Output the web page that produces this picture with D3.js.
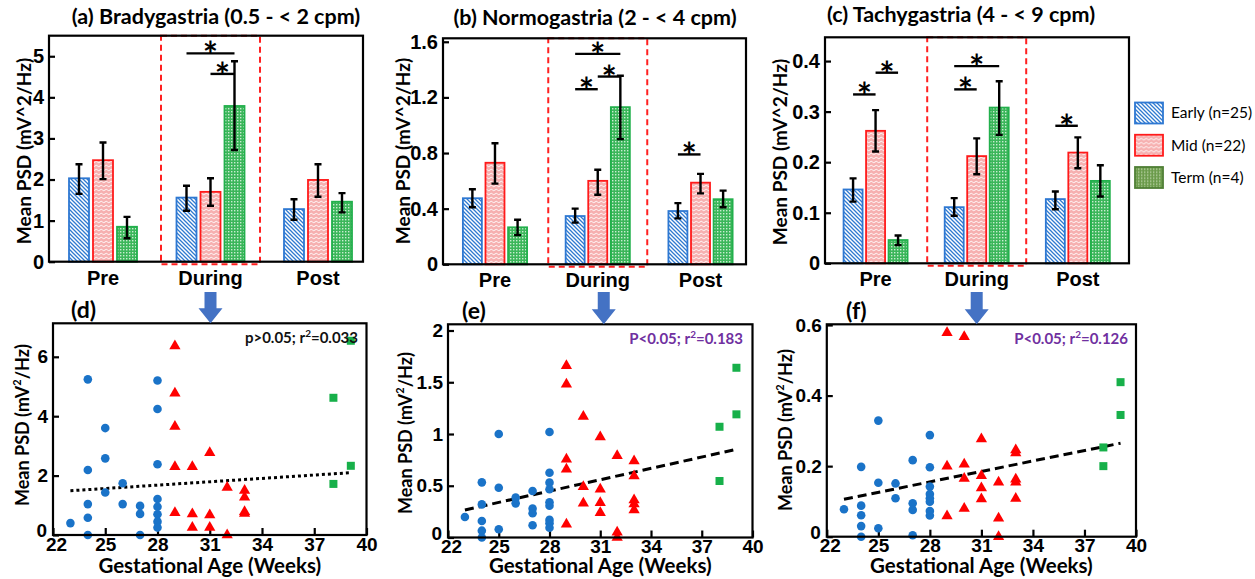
<!DOCTYPE html>
<html>
<head>
<meta charset="utf-8">
<script src="https://cdn.jsdelivr.net/npm/d3@7"></script>
<style>
  body { margin: 0; background: #fff; }
  svg { display: block; font-family: Lato, "Open Sans", sans-serif; }
</style>
</head>
<body>
<svg id="chart" width="1255" height="579"></svg>
<script>
const groups = ["Pre", "During", "Post"];
const cohorts = ["Early (n=25)", "Mid (n=22)", "Term (n=4)"];

// bar panels: rows = groups (Pre, During, Post), cols = cohorts (Early, Mid, Term)
const bradyMean = [[2.03, 2.47, 0.85], [1.56, 1.70, 3.79], [1.28, 1.99, 1.46]];
const bradyLow  = [[1.65, 2.01, 0.57], [1.24, 1.36, 2.72], [1.02, 1.58, 1.20]];
const bradyHigh = [[2.37, 2.90, 1.09], [1.85, 2.03, 4.88], [1.52, 2.37, 1.67]];

const normoMean = [[0.475, 0.73, 0.266], [0.347, 0.60, 1.13], [0.383, 0.587, 0.468]];
const normoLow  = [[0.41, 0.58, 0.21], [0.30, 0.50, 0.90], [0.33, 0.51, 0.41]];
const normoHigh = [[0.54, 0.87, 0.32], [0.40, 0.68, 1.356], [0.44, 0.65, 0.53]];

const tachyMean = [[0.146, 0.262, 0.046], [0.111, 0.212, 0.308], [0.127, 0.219, 0.163]];
const tachyLow  = [[0.122, 0.221, 0.036], [0.094, 0.176, 0.254], [0.107, 0.188, 0.132]];
const tachyHigh = [[0.168, 0.303, 0.055], [0.129, 0.247, 0.360], [0.142, 0.249, 0.194]];

// significance bars: [group, from cohort, to cohort, height]
const bradySig = [[1, 0, 2, 5.07], [1, 1, 2, 4.57]];
const normoSig = [[1, 0, 2, 1.513], [1, 0, 1, 1.259], [1, 1, 2, 1.35], [2, 0, 1, 0.79]];
const tachySig = [[0, 0, 1, 0.334], [0, 1, 2, 0.377], [1, 0, 2, 0.39], [1, 0, 1, 0.344], [2, 0, 1, 0.272]];

// scatter panels: [gestational week, mean PSD]
const bradyEarly = [[23, 0.4], [24, 5.24], [24, 2.19], [24, 1.04], [24, 0.58], [24, 0], [25, 3.6], [25, 2.58], [25, 1.43],
  [26, 1.74], [26, 1.04], [27, 0.98], [27, 0.71], [27, 0], [28, 5.2], [28, 4.24], [28, 2.38], [28, 1.21], [28, 0.95],
  [28, 0.7], [28, 0.45], [28, 0.25]];
const bradyMid = [[29, 6.36], [29, 4.77], [29, 3.65], [29, 2.3], [29, 0.75], [30, 2.3], [30, 0.71], [30, 0.25],
  [31, 2.77], [31, 0.67], [31, 0.25], [32, 1.6], [32, 0], [33, 1.5], [33, 1.27], [33, 0.78], [33, 0.72]];
const bradyTerm = [[39.1, 6.54], [38.1, 4.62], [39.1, 2.33], [38.1, 1.72]];
const bradyFit = [[23, 1.49], [39.15, 2.1]];

const normoEarly = [[23, 0.198], [24, 0.533], [24, 0.32], [24, 0.16], [24, 0.066], [24, 0], [25, 1.0], [25, 0.48], [25, 0.08],
  [26, 0.385], [26, 0.33], [27, 0.45], [27, 0.28], [27, 0.234], [27, 0.118], [28, 1.02], [28, 0.626], [28, 0.53],
  [28, 0.466], [28, 0.34], [28, 0.307], [28, 0.17], [28, 0.137], [28, 0.095]];
const normoMid = [[29, 1.66], [29, 1.48], [29, 0.755], [29, 0.66], [29, 0.128], [30, 1.17], [30, 0.49], [30, 0.33],
  [31, 0.97], [31, 0.466], [31, 0.336], [31, 0.24], [32, 0.79], [32, 0.05], [32, 0], [33, 0.74], [33, 0.594],
  [33, 0.362], [33, 0.324], [33, 0.266]];
const normoTerm = [[39.05, 1.64], [39.05, 1.19], [38.05, 1.07], [38.05, 0.546]];
const normoFit = [[23, 0.266], [39.05, 0.852]];

const tachyEarly = [[23, 0.078], [24, 0.198], [24, 0.088], [24, 0.061], [24, 0.03], [24, 0], [25, 0.329], [25, 0.153],
  [25, 0.024], [26, 0.151], [26, 0.109], [27, 0.217], [27, 0.095], [27, 0.076], [27, 0.004], [28, 0.288], [28, 0.197],
  [28, 0.142], [28, 0.121], [28, 0.109], [28, 0.099], [28, 0.073], [28, 0.06]];
const tachyMid = [[29, 0.578], [29, 0.2], [29, 0.059], [30, 0.567], [30, 0.205], [30, 0.165], [30, 0.08], [31, 0.277],
  [31, 0.173], [31, 0.138], [31, 0.107], [32, 0.154], [32, 0.052], [32, 0], [33, 0.246], [33, 0.237], [33, 0.163],
  [33, 0.154], [33, 0.108]];
const tachyTerm = [[39.1, 0.438], [39.1, 0.345], [38.1, 0.253], [38.1, 0.2]];
const tachyFit = [[23, 0.106], [39.1, 0.265]];

const weekTicks = [22, 25, 28, 31, 34, 37, 40];

const strokeCols = ["#2e78d2", "#ff1a1a", "#22b04c"];
const fills = ["url(#pEarly)", "url(#pMid)", "url(#pTerm)"];

const svg = d3.select("#chart");
const defs = svg.append("defs");

function addPattern(id, w, h, bg) {
  const p = defs.append("pattern").attr("id", id)
    .attr("patternUnits", "userSpaceOnUse").attr("width", w).attr("height", h);
  p.append("rect").attr("width", w).attr("height", h).attr("fill", bg);
  return p;
}
addPattern("pEarly", 4, 4, "#fff").append("path")
  .attr("d", "M-1,-1L5,5M-1,3L1,5M3,-1L5,1")
  .attr("stroke", "#2f7ad0").attr("stroke-width", 1.3);
addPattern("pMid", 5, 4, "#f6b0b0").append("path")
  .attr("d", "M0,2Q1.25,0.6 2.5,2T5,2").attr("fill", "none")
  .attr("stroke", "#fff").attr("stroke-width", 0.9);
addPattern("pTerm", 3, 3, "#3bb65a").append("rect")
  .attr("width", 1.4).attr("height", 1.4).attr("fill", "#c8ecd0");
addPattern("pTermLeg", 3, 3, "#6b9b4b").append("rect")
  .attr("width", 1.4).attr("height", 1.4).attr("fill", "#b9d3a6");

function styleAxis(g, size) {
  g.select(".domain").remove();
  g.selectAll(".tick line").attr("stroke", "#000").attr("stroke-width", 2.2);
  g.selectAll(".tick text").attr("fill", "#000").attr("font-size", size).attr("font-weight", 700);
}

function barPanel(o) {
  const x = d3.scaleBand().domain(groups).range(o.xRange);
  const pad = 1 - o.barW / o.stride;
  const sub = d3.scaleBand().domain([0, 1, 2])
    .range([-1.5 * o.stride, 1.5 * o.stride]).paddingInner(pad).paddingOuter(pad / 2);
  const y = d3.scaleLinear().domain([0, o.yMax]).range([o.yBottom, o.yTop]);
  const center = (g) => x(groups[g]) + x.bandwidth() / 2;
  const cx = (g, c) => center(g) + sub(c) + sub.bandwidth() / 2;

  const bars = [];
  o.mean.forEach((row, g) => row.forEach((v, c) => {
    bars.push({ g, c, v, lo: o.low[g][c], hi: o.high[g][c] });
  }));

  svg.append("g").selectAll("rect").data(bars).join("rect")
    .attr("x", d => cx(d.g, d.c) - sub.bandwidth() / 2)
    .attr("width", sub.bandwidth())
    .attr("y", d => y(d.v))
    .attr("height", d => y(0) - y(d.v))
    .attr("fill", d => fills[d.c])
    .attr("stroke", d => strokeCols[d.c])
    .attr("stroke-width", 1.8);

  const err = svg.append("g").attr("stroke", "#000").attr("stroke-width", 2.4);
  err.selectAll("path").data(bars).join("path")
    .attr("fill", "none")
    .attr("d", d => {
      const c = cx(d.g, d.c);
      return `M${c - 3.5},${y(d.hi)}H${c + 3.5}M${c},${y(d.hi)}V${y(d.lo)}M${c - 3.5},${y(d.lo)}H${c + 3.5}`;
    });

  // dashed highlight around the "During" group
  const dx = center(1);
  svg.append("rect")
    .attr("x", dx - o.boxHalf).attr("width", 2 * o.boxHalf)
    .attr("y", o.yTop).attr("height", o.yBottom - o.yTop + 2.5)
    .attr("fill", "none").attr("stroke", "#ff2020").attr("stroke-width", 2)
    .attr("stroke-dasharray", "6,4");

  const sig = svg.append("g");
  sig.selectAll("line").data(o.sig).join("line")
    .attr("x1", d => cx(d[0], d[1])).attr("x2", d => cx(d[0], d[2]))
    .attr("y1", d => y(d[3])).attr("y2", d => y(d[3]))
    .attr("stroke", "#000").attr("stroke-width", 2.4);
  sig.selectAll("text").data(o.sig).join("text")
    .attr("x", d => (cx(d[0], d[1]) + cx(d[0], d[2])) / 2)
    .attr("y", d => y(d[3]) + 15)
    .attr("text-anchor", "middle").attr("font-size", 36).attr("font-weight", 700)
    .text("*");

  svg.append("g").attr("transform", `translate(${o.frame[0]},0)`)
    .call(d3.axisLeft(y).tickValues(o.ticks).tickSize(-6).tickPadding(5).tickFormat(d3.format("")))
    .call(g => styleAxis(g, 20));

  svg.append("g").attr("transform", `translate(0,${o.yBottom})`)
    .call(d3.axisBottom(x).tickSize(0).tickPadding(9))
    .call(g => styleAxis(g, 20));

  svg.append("rect")
    .attr("x", o.frame[0]).attr("y", o.yTop)
    .attr("width", o.frame[1] - o.frame[0]).attr("height", o.yBottom - o.yTop)
    .attr("fill", "none").attr("stroke", "#000").attr("stroke-width", 2.2);

  svg.append("text")
    .attr("x", o.title[1]).attr("y", o.title[2])
    .attr("text-anchor", "middle").attr("font-size", 21.5).attr("font-weight", 700)
    .text(o.title[0]);

  svg.append("text")
    .attr("transform", `translate(${o.ylab[0]},${o.ylab[1]}) rotate(-90)`)
    .attr("text-anchor", "middle").attr("dominant-baseline", "central")
    .attr("font-size", 19).attr("font-weight", 700)
    .text("Mean PSD (mV^2/Hz)");

  return center(1);
}

function scatterPanel(o) {
  const x = d3.scaleLinear().domain([22, 40]).range(o.xRange);
  const y = d3.scaleLinear().domain([0, o.yMax]).range([o.yBottom, o.yTop]);

  svg.append("g").attr("transform", `translate(${o.xRange[0]},0)`)
    .call(d3.axisLeft(y).tickValues(o.ticks).tickSize(-6).tickPadding(5).tickFormat(d3.format("")))
    .call(g => styleAxis(g, 19))
    .call(g => g.selectAll(".tick text").filter(d => d === 0).attr("dy", "0.1em").attr("x", -6));

  svg.append("g").attr("transform", `translate(0,${o.yBottom})`)
    .call(d3.axisBottom(x).tickValues(weekTicks).tickSize(-7).tickPadding(2))
    .call(g => styleAxis(g, 19))
    .call(g => g.selectAll(".tick text").filter(d => d === 22).attr("dx", 3));

  svg.append("path")
    .datum(o.fit)
    .attr("d", d3.line().x(d => x(d[0])).y(d => y(d[1])))
    .attr("fill", "none").attr("stroke", "#000").attr("stroke-width", 3)
    .attr("stroke-dasharray", o.dash);

  svg.append("g").selectAll("circle").data(o.early).join("circle")
    .attr("cx", d => x(d[0])).attr("cy", d => y(d[1])).attr("r", 4.3)
    .attr("fill", "#1a73c8");

  const tri = d3.symbol().type(d3.symbolTriangle).size(55);
  svg.append("g").selectAll("path").data(o.mid).join("path")
    .attr("transform", d => `translate(${x(d[0])},${y(d[1])})`)
    .attr("d", tri).attr("fill", "#ff0000");

  svg.append("g").selectAll("rect").data(o.term).join("rect")
    .attr("x", d => x(d[0]) - 4).attr("y", d => y(d[1]) - 4)
    .attr("width", 8).attr("height", 8).attr("fill", "#17b04a");

  svg.append("rect")
    .attr("x", o.xRange[0]).attr("y", o.yTop)
    .attr("width", o.xRange[1] - o.xRange[0]).attr("height", o.yBottom - o.yTop)
    .attr("fill", "none").attr("stroke", "#000").attr("stroke-width", 2.2);

  const note = svg.append("text")
    .attr("x", o.note[1]).attr("y", o.yTop + 20)
    .attr("text-anchor", "end").attr("font-size", 15).attr("font-weight", 700)
    .attr("fill", o.noteColor);
  note.append("tspan").text(o.note[0] + "; r");
  note.append("tspan").attr("font-size", 10).attr("dy", -6).text("2");
  note.append("tspan").attr("dy", 6).text("=" + o.note[2]);

  svg.append("text")
    .attr("x", o.tag[1]).attr("y", o.yTop - 5)
    .attr("font-size", 23).attr("font-weight", 700)
    .text(o.tag[0]);

  svg.append("text")
    .attr("x", (o.xRange[0] + o.xRange[1]) / 2).attr("y", o.xlabY)
    .attr("text-anchor", "middle").attr("font-size", 20.5).attr("font-weight", 700)
    .text("Gestational Age (Weeks)");

  const yl = svg.append("text")
    .attr("transform", `translate(${o.ylab[0]},${o.ylab[1]}) rotate(-90)`)
    .attr("text-anchor", "middle").attr("dominant-baseline", "central")
    .attr("font-size", 18).attr("font-weight", 700);
  yl.append("tspan").text("Mean PSD (mV");
  yl.append("tspan").attr("font-size", 11).attr("dy", -6).text("2");
  yl.append("tspan").attr("dy", 6).text("/Hz)");

  // arrow from the bar panel's "During" group
  const ax = o.arrowX, top = 292, tip = o.yTop;
  svg.append("path")
    .attr("d", `M${ax - 6},${top}H${ax + 6}V${tip - 15}H${ax + 12}L${ax},${tip}L${ax - 12},${tip - 15}H${ax - 6}Z`)
    .attr("fill", "#4472c4");
}

const arrowA = barPanel({
  mean: bradyMean, low: bradyLow, high: bradyHigh, sig: bradySig,
  xRange: [49.25, 371.75], frame: [49, 363], stride: 24, barW: 20, boxHalf: 49.5,
  yMax: 5.5, yBottom: 261.7, yTop: 35.7, ticks: [0, 1, 2, 3, 4, 5],
  title: ["(a) Bradygastria (0.5 - < 2 cpm)", 216, 24], ylab: [23, 151]
});
const arrowB = barPanel({
  mean: normoMean, low: normoLow, high: normoHigh, sig: normoSig,
  xRange: [443.6, 751.9], frame: [443, 746], stride: 22.6, barW: 19, boxHalf: 49.5,
  yMax: 1.625, yBottom: 264.3, yTop: 38.3, ticks: [0, 0.4, 0.8, 1.2, 1.6],
  title: ["(b) Normogastria (2 - < 4 cpm)", 595, 25], ylab: [402, 151]
});
const arrowC = barPanel({
  mean: tachyMean, low: tachyLow, high: tachyHigh, sig: tachySig,
  xRange: [825, 1128.4], frame: [825, 1129], stride: 22.5, barW: 19, boxHalf: 49.5,
  yMax: 0.447, yBottom: 263.3, yTop: 37.3, ticks: [0, 0.1, 0.2, 0.3, 0.4],
  title: ["(c) Tachygastria (4 - < 9 cpm)", 961, 22], ylab: [779, 152]
});

scatterPanel({
  early: bradyEarly, mid: bradyMid, term: bradyTerm, fit: bradyFit, dash: "3,3",
  xRange: [53, 366.5], yMax: 7.128, yBottom: 535, yTop: 323.3, ticks: [0, 2, 4, 6],
  note: ["p>0.05", 358, "0.033"], noteColor: "#111", tag: ["(d)", 71],
  xlabY: 573, ylab: [22, 425], arrowX: arrowA
});
scatterPanel({
  early: normoEarly, mid: normoMid, term: normoTerm, fit: normoFit, dash: "9,5",
  xRange: [448, 752.5], yMax: 2.06, yBottom: 537.5, yTop: 324.3, ticks: [0, 0.5, 1, 1.5, 2],
  note: ["P<0.05", 743, "0.183"], noteColor: "#7030a0", tag: ["(e)", 462],
  xlabY: 573, ylab: [405, 433], arrowX: arrowB + 6
});
scatterPanel({
  early: tachyEarly, mid: tachyMid, term: tachyTerm, fit: tachyFit, dash: "9,5",
  xRange: [826.8, 1136], yMax: 0.602, yBottom: 536.7, yTop: 324.3, ticks: [0, 0.2, 0.4, 0.6],
  note: ["P<0.05", 1128, "0.126"], noteColor: "#7030a0", tag: ["(f)", 846],
  xlabY: 573, ylab: [785, 430], arrowX: arrowC
});

// legend
const legFills = ["url(#pEarly)", "url(#pMid)", "url(#pTermLeg)"];
const legStrokes = ["#2e78d2", "#ff1a1a", "#4f7f35"];
const legY = d3.scalePoint().domain(cohorts).range([113, 177.5]);
const leg = svg.append("g").selectAll("g").data(cohorts).join("g")
  .attr("transform", d => `translate(1135,${legY(d)})`);
leg.append("rect")
  .attr("x", 0).attr("y", -10.5).attr("width", 28).attr("height", 21)
  .attr("fill", (d, i) => legFills[i]).attr("stroke", (d, i) => legStrokes[i]).attr("stroke-width", 1.8);
leg.append("text")
  .attr("x", 36).attr("dy", "0.35em").attr("font-size", 15.5)
  .text(d => d);
</script>
</body>
</html>
